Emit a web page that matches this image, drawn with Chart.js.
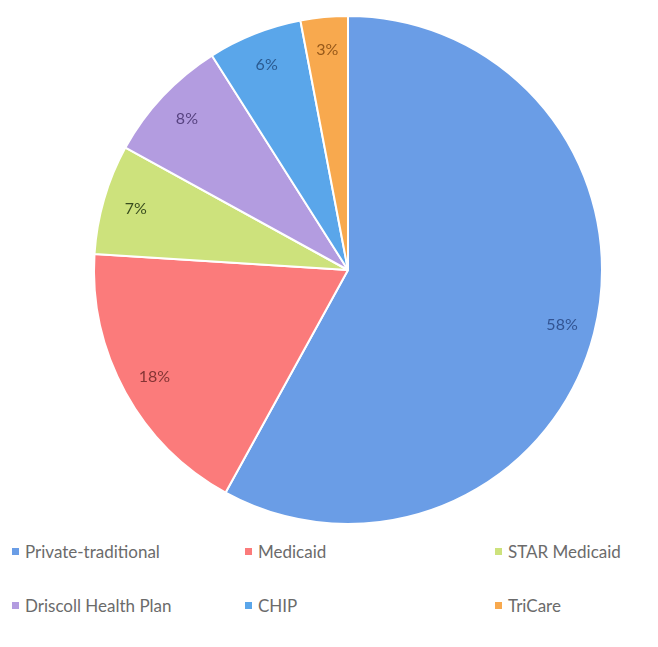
<!DOCTYPE html>
<html>
<head>
<meta charset="utf-8">
<script src="https://cdn.jsdelivr.net/npm/chart.js@4/dist/chart.umd.min.js"></script>
<style>
  html, body { margin: 0; padding: 0; background: #fff; }
  #wrap { position: relative; width: 658px; height: 647px; }
  #c { position: absolute; left: 0; top: 0; }
  #legend { position: absolute; left: 0; top: 536px; width: 658px; font-family: Lato, "Open Sans", sans-serif; font-size: 17px; color: #6b6b6b; }
  .item { position: absolute; white-space: nowrap; line-height: 20px; }
  .box { display: inline-block; width: 7px; height: 7px; margin-right: 6px; vertical-align: middle; position: relative; top: -2px; }
</style>
</head>
<body>
<div id="wrap">
  <canvas id="c" width="658" height="530"></canvas>
  <div id="legend"></div>
</div>
<script>
const categories = ["Private-traditional", "Medicaid", "STAR Medicaid", "Driscoll Health Plan", "CHIP", "TriCare"];
const shares = [58, 18, 7, 8, 6, 3];
const percentLabels = ["58%", "18%", "7%", "8%", "6%", "3%"];

const sliceColors = ["#6a9de6", "#fb7b7b", "#cde27c", "#b39ce0", "#5aa6ea", "#f8a94e"];
const labelColors = ["rgba(40,70,130,0.85)", "rgba(110,40,40,0.85)", "rgba(40,60,20,0.9)", "rgba(70,50,110,0.85)", "rgba(30,70,120,0.8)", "rgba(140,80,20,0.9)"];

const pieLabels = {
  id: 'pieLabels',
  afterDatasetsDraw(chart) {
    const ctx = chart.ctx;
    const meta = chart.getDatasetMeta(0);
    ctx.save();
    ctx.font = '16px Lato, "Open Sans", sans-serif';
    ctx.textAlign = 'center';
    ctx.textBaseline = 'middle';
    meta.data.forEach((arc, i) => {
      const p = arc.getProps(['x', 'y', 'startAngle', 'endAngle', 'outerRadius']);
      const mid = (p.startAngle + p.endAngle) / 2;
      const r = p.outerRadius * 0.87;
      ctx.fillStyle = labelColors[i];
      ctx.fillText(percentLabels[i], p.x + Math.cos(mid) * r, p.y + Math.sin(mid) * r);
    });
    ctx.restore();
  }
};

new Chart(document.getElementById('c'), {
  type: 'pie',
  data: {
    labels: categories,
    datasets: [{
      data: shares,
      backgroundColor: sliceColors,
      borderColor: '#ffffff',
      borderWidth: 2
    }]
  },
  options: {
    responsive: false,
    animation: false,
    layout: { padding: { left: 93, right: 55, top: 15, bottom: 5 } },
    plugins: { legend: { display: false }, tooltip: { enabled: false } }
  },
  plugins: [pieLabels]
});

const legendPos = [[12, 6], [245, 6], [495, 6], [12, 60], [245, 60], [495, 60]];
const lg = document.getElementById('legend');
categories.forEach((name, i) => {
  const d = document.createElement('div');
  d.className = 'item';
  d.style.left = legendPos[i][0] + 'px';
  d.style.top = legendPos[i][1] + 'px';
  const b = document.createElement('span');
  b.className = 'box';
  b.style.background = sliceColors[i];
  d.appendChild(b);
  d.appendChild(document.createTextNode(name));
  lg.appendChild(d);
});
</script>
</body>
</html>
